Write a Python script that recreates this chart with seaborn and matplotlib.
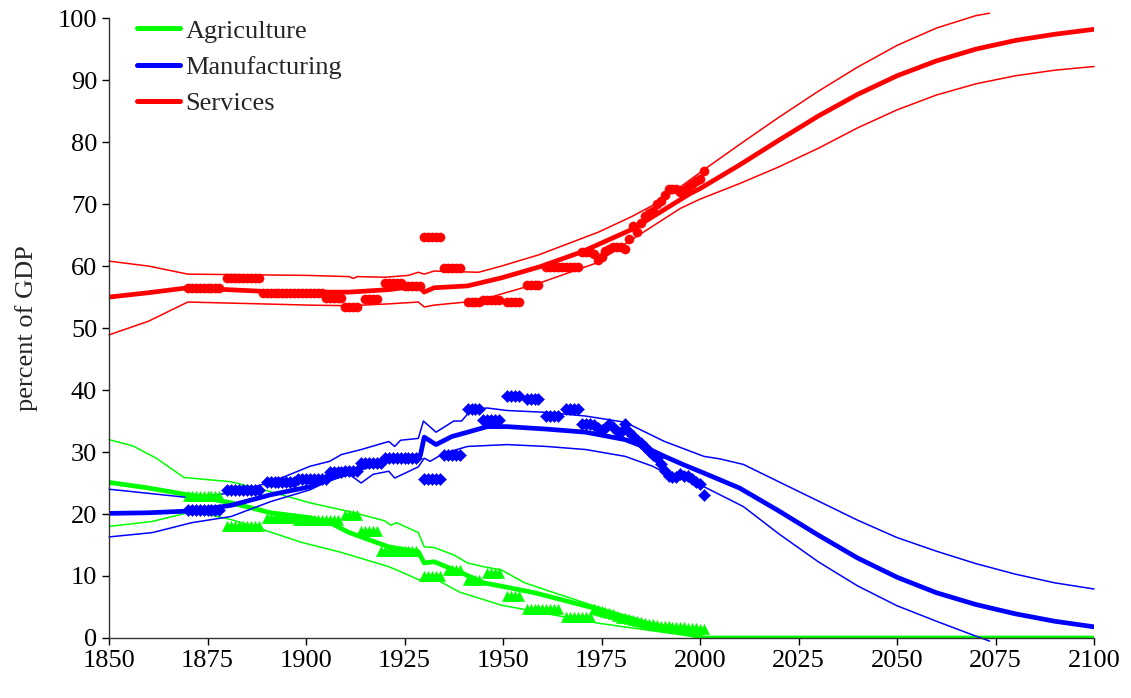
import numpy as np
import pandas as pd
import matplotlib
matplotlib.use("Agg")
import matplotlib.pyplot as plt
from matplotlib.lines import Line2D
import seaborn as sns

# ---- fitted curves (centre line and upper / lower band) ----
agr_mid_yr = [1850, 1860, 1870, 1881, 1891, 1901, 1906, 1911, 1921, 1928.5, 1930, 1932.5, 1939.5, 1945, 1950, 1958, 1975, 1988, 2001, 2100]
agr_mid = [25.1, 24.2, 23.1, 21.8, 20.2, 19.4, 18.6, 17.0, 14.7, 13.9, 12.1, 12.3, 10.5, 8.9, 8.3, 7.3, 4.5, 2.1, 0.0, 0.0]
agr_hi_yr = [1850, 1856, 1862, 1869, 1881, 1891, 1901, 1911, 1920, 1921.5, 1923, 1928.5, 1930, 1932.5, 1937.5, 1941, 1945, 1949.5, 1955.5, 1962.5, 1974, 1983.5, 2001]
agr_hi = [32.0, 31.0, 29.0, 25.9, 25.2, 23.6, 21.8, 20.4, 18.9, 18.2, 18.6, 17.0, 14.7, 14.6, 13.4, 12.1, 11.5, 11.0, 8.9, 7.4, 5.0, 2.9, 0.0]
agr_lo_yr = [1850, 1861, 1870, 1876, 1881, 1889, 1899, 1909, 1921, 1924, 1929.7, 1932.3, 1939, 1949.5, 1974, 2001]
agr_lo = [18.0, 18.8, 20.2, 19.8, 19.1, 17.5, 15.4, 13.8, 11.5, 10.7, 9.1, 9.7, 7.4, 5.3, 2.4, 0.0]

man_mid_yr = [1850, 1860, 1871, 1881, 1891, 1901, 1911, 1916, 1921, 1926, 1929, 1930, 1933, 1937, 1941, 1946, 1951, 1961, 1971, 1976, 1981, 1986, 1991, 1996, 2001,
              2010, 2020, 2030, 2040, 2050, 2060, 2070, 2080, 2090, 2100]
man_mid = [20.1, 20.2, 20.5, 21.4, 23.1, 24.4, 26.8, 27.8, 28.8, 29.1, 29.4, 32.4, 31.2, 32.5, 33.2, 34.1, 34.1, 33.7, 33.2, 32.6, 32.0, 30.8, 29.3, 27.9, 26.6,
           24.2, 20.5, 16.6, 12.9, 9.8, 7.3, 5.4, 3.9, 2.7, 1.8]
man_hi_yr = [1850, 1871, 1881, 1891, 1901, 1906, 1909, 1914, 1921, 1922.5, 1924, 1928.5, 1929.8, 1933, 1937.5, 1939.5, 1942, 1946, 1951, 1961, 1971, 1981, 1991, 2001,
             2005, 2011, 2020, 2030, 2040, 2050, 2060, 2070, 2080, 2090, 2100]
man_hi = [24.0, 22.6, 23.4, 25.1, 27.7, 28.5, 29.6, 30.4, 31.7, 30.9, 31.9, 32.2, 35.0, 33.2, 35.0, 35.0, 36.9, 37.1, 36.7, 36.4, 35.8, 34.8, 31.7, 29.3,
          28.9, 28.0, 25.2, 22.1, 19.0, 16.2, 14.0, 12.0, 10.3, 8.9, 7.9]
man_lo_yr = [1850, 1861, 1871, 1881, 1891, 1901, 1906, 1911, 1914, 1917, 1921, 1922.5, 1928.5, 1930, 1931.5, 1935, 1941, 1951, 1961, 1971, 1981, 1988, 1991, 1996, 2001,
             2011, 2020, 2030, 2040, 2050, 2060, 2070, 2073.5]
man_lo = [16.3, 17.0, 18.6, 19.6, 22.0, 23.9, 25.4, 26.4, 25.0, 26.4, 26.9, 25.8, 27.6, 29.0, 28.5, 29.8, 30.9, 31.2, 30.9, 30.4, 29.3, 27.7, 26.7, 25.6, 24.4,
          21.2, 16.8, 12.3, 8.4, 5.2, 2.7, 0.3, -0.5]

svc_mid_yr = [1850, 1860, 1870, 1880, 1890, 1900, 1911, 1921, 1928.5, 1930, 1932.5, 1941, 1949.6, 1959.4, 1970, 1983, 1997.5, 2000,
              2010, 2020, 2030, 2040, 2050, 2060, 2070, 2080, 2090, 2100]
svc_mid = [55.0, 55.7, 56.5, 56.2, 55.9, 55.8, 55.8, 56.2, 56.8, 55.8, 56.5, 56.8, 58.1, 59.9, 62.3, 66.0, 71.7, 72.5,
           76.3, 80.3, 84.2, 87.7, 90.7, 93.1, 95.0, 96.4, 97.4, 98.2]
svc_hi_yr = [1850, 1860, 1870, 1900, 1911, 1912, 1913, 1920, 1926, 1928.5, 1930, 1932.5, 1943.8, 1949.6, 1959, 1974.3, 1982.7, 1988.6, 1995.5, 2002,
             2010, 2020, 2030, 2040, 2050, 2060, 2070, 2073.5]
svc_hi = [60.8, 60.0, 58.7, 58.5, 58.3, 58.0, 58.3, 58.2, 58.5, 59.0, 58.7, 59.2, 59.0, 60.0, 61.8, 65.5, 68.0, 70.0, 73.0, 76.0,
          79.6, 84.0, 88.2, 92.1, 95.6, 98.4, 100.4, 100.8]
svc_lo_yr = [1850, 1860, 1870, 1901, 1911, 1921, 1928.5, 1930, 1932.5, 1943.8, 1949.6, 1959.4, 1973.3, 1983, 1995, 2000,
             2010, 2020, 2030, 2040, 2050, 2060, 2070, 2080, 2090, 2100]
svc_lo = [48.9, 51.1, 54.2, 53.7, 53.6, 53.9, 54.2, 53.4, 53.7, 54.4, 55.5, 57.3, 60.4, 64.4, 69.3, 70.8,
          73.3, 76.0, 79.0, 82.3, 85.2, 87.6, 89.4, 90.7, 91.6, 92.2]

# ---- historical observations: step periods (start, end, value) ----
agr_blk_start = [1870, 1880, 1890, 1898, 1910, 1914, 1919, 1930, 1936, 1941, 1946, 1951, 1956, 1966]
agr_blk_end = [1878, 1888, 1897, 1908, 1913, 1918, 1928, 1934, 1939, 1944, 1949, 1954, 1964, 1972]
agr_blk_val = [22.9, 18.1, 19.4, 19.0, 19.9, 17.2, 14.0, 10.0, 10.9, 9.3, 10.5, 6.8, 4.7, 3.4]

man_blk_start = [1870, 1880, 1890, 1898, 1906, 1910, 1914, 1920, 1930, 1935, 1941, 1945, 1951, 1956, 1961, 1966]
man_blk_end = [1878, 1888, 1897, 1905, 1909, 1913, 1919, 1928, 1934, 1939, 1944, 1949, 1954, 1959, 1964, 1969]
man_blk_val = [20.6, 23.8, 25.2, 25.6, 26.7, 26.9, 28.3, 29.1, 25.6, 29.6, 36.9, 35.1, 39.0, 38.5, 35.8, 37.0]

svc_blk_start = [1870, 1880, 1889, 1905, 1910, 1915, 1920, 1925, 1930, 1935, 1941, 1945, 1951, 1956, 1961]
svc_blk_end = [1878, 1888, 1904, 1909, 1913, 1918, 1924, 1929, 1934, 1939, 1944, 1949, 1954, 1959, 1969]
svc_blk_val = [56.5, 58.0, 55.7, 54.8, 53.4, 54.7, 57.3, 56.8, 64.7, 59.7, 54.2, 54.6, 54.2, 57.0, 59.9]

# ---- annual observations after the step periods ----
agr_yr = list(range(1973, 2002))
agr_obs = [4.6, 4.5, 4.4, 4.2, 4.0, 3.8, 3.5, 3.3, 3.2, 3.1, 2.9, 2.7, 2.5, 2.4, 2.3, 2.2, 2.1, 2.0,
           1.9, 1.9, 1.8, 1.8, 1.7, 1.7, 1.6, 1.6, 1.6, 1.5, 1.5]
man_yr = list(range(1970, 2002))
man_obs = [34.6, 34.6, 34.5, 34.4, 33.8, 33.6, 33.9, 34.6, 34.0, 33.4, 33.3, 34.5, 33.2, 32.6, 31.9, 31.4,
           30.8, 30.1, 29.6, 29.1, 28.0, 27.0, 26.2, 25.9, 25.9, 26.4, 26.2, 26.1, 25.7, 25.2, 24.8, 23.1]
svc_yr = list(range(1970, 2002))
svc_obs = [62.3, 62.3, 62.3, 62.0, 61.0, 61.5, 62.5, 62.8, 63.0, 63.1, 63.0, 62.8, 64.4, 66.5, 65.5, 67.0,
           68.1, 68.5, 68.9, 70.0, 70.5, 71.4, 72.5, 72.5, 72.5, 72.0, 72.3, 72.8, 73.3, 73.8, 74.1, 75.4]

GREEN, BLUE, RED = "#00FF00", "#0000FF", "#FF0000"
FS = 19


def observations(starts, ends, vals, yrs, obs):
    x = [y for s, e in zip(starts, ends) for y in range(s, e + 1)]
    v = [val for s, e, val in zip(starts, ends, vals) for _ in range(s, e + 1)]
    return pd.DataFrame({"year": x + list(yrs), "share": v + list(obs)})


sns.set_style("ticks")
plt.rcParams["font.family"] = ["Liberation Serif", "DejaVu Serif"]

fig = plt.figure(figsize=(11.31, 6.98), dpi=100)
ax = fig.add_axes([0.0964, 0.086, 0.8709, 0.888])

series = [
    (GREEN, "^", 55, agr_mid_yr, agr_mid, agr_hi_yr, agr_hi, agr_lo_yr, agr_lo,
     observations(agr_blk_start, agr_blk_end, agr_blk_val, agr_yr, agr_obs)),
    (BLUE, "D", 38, man_mid_yr, man_mid, man_hi_yr, man_hi, man_lo_yr, man_lo,
     observations(man_blk_start, man_blk_end, man_blk_val, man_yr, man_obs)),
    (RED, "o", 44, svc_mid_yr, svc_mid, svc_hi_yr, svc_hi, svc_lo_yr, svc_lo,
     observations(svc_blk_start, svc_blk_end, svc_blk_val, svc_yr, svc_obs)),
]

for color, mk, size, myr, mv, hyr, hv, lyr, lv, obs in series:
    for yr, v in [(hyr, hv), (lyr, lv)]:
        sns.lineplot(x=yr, y=v, color=color, linewidth=1.1, ax=ax,
                     estimator=None, sort=False, clip_on=False)
    sns.lineplot(x=myr, y=mv, color=color, linewidth=3.4, ax=ax,
                 estimator=None, sort=False)
    sns.scatterplot(data=obs, x="year", y="share", marker=mk, s=size,
                    color=color, edgecolor=color, linewidth=0.3, ax=ax, zorder=3)

ax.set_xlim(1850, 2100)
ax.set_ylim(0, 100)
ax.set_xticks(range(1850, 2101, 25))
ax.set_yticks(range(0, 101, 10))
ax.set_xlabel("")
ax.set_ylabel("percent of GDP", fontsize=FS)
ax.yaxis.set_label_coords(-0.072, 0.5)
ax.tick_params(axis="both", direction="out", length=5, width=1, labelsize=FS,
               colors="black")
sns.despine(ax=ax)
for sp in ["left", "bottom"]:
    ax.spines[sp].set_color("#333333")
    ax.spines[sp].set_linewidth(1.0)

handles = [Line2D([], [], color=c, linewidth=3.6) for c in (GREEN, BLUE, RED)]
ax.legend(handles, ["Agriculture", "Manufacturing", "Services"], loc="upper left",
          bbox_to_anchor=(0.0284, 0.9984), borderaxespad=0, borderpad=0, frameon=False,
          fontsize=FS, handlelength=1.63, handletextpad=0.2, labelspacing=0.49)

fig.savefig("out.png", dpi=100)
